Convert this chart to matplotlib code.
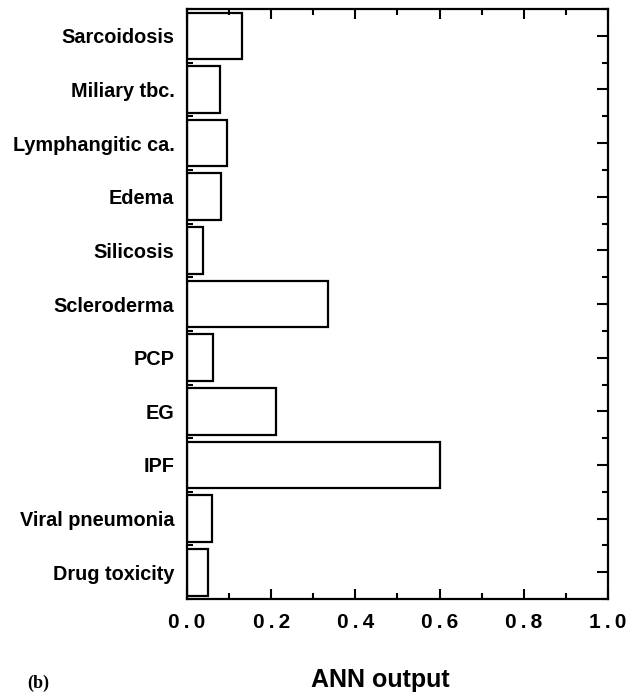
import numpy as np
import matplotlib
matplotlib.use('Agg')
import matplotlib.pyplot as plt
from matplotlib.ticker import MultipleLocator, FixedLocator
from matplotlib.transforms import ScaledTranslation

plt.rcParams['font.family'] = ['Liberation Sans', 'DejaVu Sans']
plt.rcParams['font.weight'] = 'bold'

# Diagnoses, top to bottom, and the ANN output for each
diseases = ['Sarcoidosis', 'Miliary tbc.', 'Lymphangitic ca.', 'Edema', 'Silicosis',
            'Scleroderma', 'PCP', 'EG', 'IPF', 'Viral pneumonia', 'Drug toxicity']
ann_output = [0.130, 0.078, 0.095, 0.081, 0.038, 0.334, 0.062, 0.211, 0.600, 0.059, 0.050]
x_ticks = [0.0, 0.2, 0.4, 0.6, 0.8, 1.0]

fig = plt.figure(figsize=(6.38, 6.95), dpi=100)
ax = fig.add_axes([0.293, 0.138, 0.660, 0.849])

pos = np.arange(len(diseases))
ax.barh(pos, ann_output, height=0.87, color='white', edgecolor='black', linewidth=1.6)

ax.set_xlim(0, 1.0)
ax.set_ylim(len(diseases) - 0.5, -0.5)

# the original prints the tick numbers a little spaced out
ax.set_xticks(x_ticks)
ax.set_xticklabels(['\u2009.\u2009'.join(('%.1f' % v).split('.')) for v in x_ticks],
                   fontsize=15, fontweight='bold')
ax.xaxis.set_minor_locator(MultipleLocator(0.1))

ax.set_yticks(pos)
ax.set_yticklabels(diseases, fontsize=14.3, fontweight='bold')
ax.yaxis.set_minor_locator(FixedLocator(np.arange(-0.5, len(diseases), 1.0)))
# labels sit a little below the bar centres in the original
shift = ScaledTranslation(0, -3 / 72, fig.dpi_scale_trans)
for lab in ax.get_yticklabels():
    lab.set_transform(lab.get_transform() + shift)

for s in ax.spines.values():
    s.set_linewidth(1.6)

ax.tick_params(axis='x', which='major', direction='in', length=7, width=1.5,
               top=True, bottom=True, pad=10)
ax.tick_params(axis='x', which='minor', direction='in', length=4, width=1.5,
               top=True, bottom=True)
ax.tick_params(axis='y', which='major', direction='in', length=8, width=1.5,
               left=False, right=True, pad=9)
ax.tick_params(axis='y', which='minor', direction='in', length=4, width=1.5,
               left=True, right=True)

fig.text(0.596, 0.0115, 'ANN output', ha='center', va='baseline',
         fontsize=18, fontweight='bold')
fig.text(0.043, 0.004, '(b)', ha='left', va='bottom', fontsize=13,
         fontweight='bold', family=['Liberation Serif', 'DejaVu Serif'])

plt.savefig('out.png', dpi=100)
